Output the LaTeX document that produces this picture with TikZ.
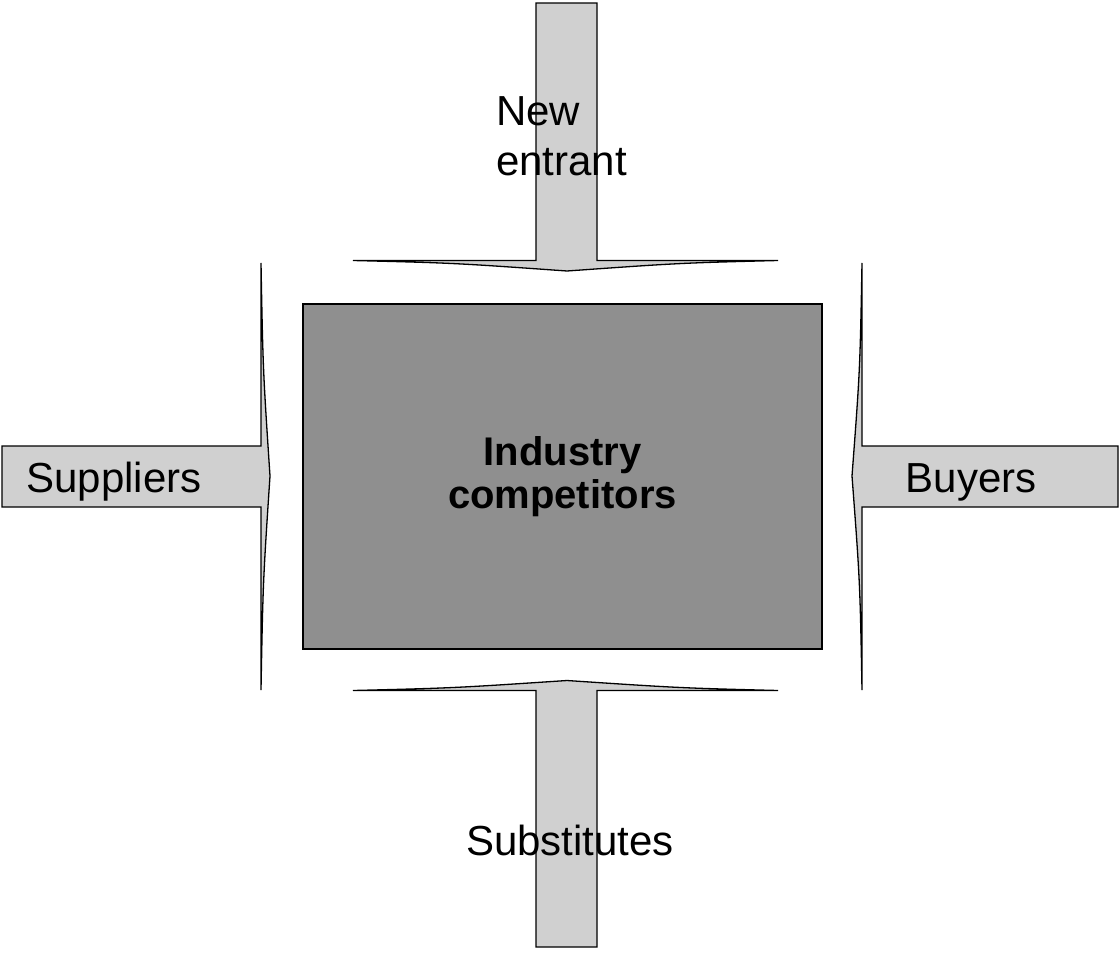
\documentclass[tikz,border=0pt]{standalone}
\usepackage{fontspec}
\setmainfont{Liberation Sans}
\begin{document}
\begin{tikzpicture}[x=1pt,y=-1pt,
  force/.style={draw=black,line width=1.3pt,fill=arrowgray,line join=miter},
  lbl/.style={font=\fontsize{42}{50}\selectfont,inner sep=0pt},
  core/.style={draw=black,line width=1.3pt,fill=coregray,minimum width=519pt,minimum height=345pt,inner sep=0pt,
    font=\fontsize{40}{43}\selectfont\bfseries,align=center}]
\definecolor{arrowgray}{HTML}{D0D0D0}
\definecolor{coregray}{HTML}{8F8F8F}
\useasboundingbox (0,0) rectangle (1120,953);
% center box
\node[core] (ind) at (562.5,476.5) {Industry\\competitors};
% top arrow (new entrants)
\path[force] (536,3) -- (597,3) -- (597,260.5) -- (778,260.5)
  .. controls (680,263) .. (567,271) .. controls (454,263) .. (353,260.5) -- (536,260.5) -- cycle;
% bottom arrow (substitutes)
\path[force] (536,947) -- (597,947) -- (597,690.5) -- (778,690.5)
  .. controls (680,688) .. (567,680.5) .. controls (454,688) .. (353,690.5) -- (536,690.5) -- cycle;
% left arrow (suppliers)
\path[force] (2,446) -- (261,446) -- (261,263)
  .. controls (263,370) .. (270,476) .. controls (263,582) .. (261,690) -- (261,507) -- (2,507) -- cycle;
% right arrow (buyers)
\path[force] (1118,446) -- (862,446) -- (862,263)
  .. controls (860,370) .. (852,476) .. controls (860,582) .. (862,690) -- (862,507) -- (1118,507) -- cycle;
% labels
\node[lbl,anchor=base west,align=left] (newent) at (496,175) {New\\entrant};
\node[lbl,anchor=base] (subst) at (570,855) {Substitutes};
\node[lbl,anchor=base] (supp) at (114,492) {Suppliers};
\node[lbl,anchor=base] (buy) at (971,492) {Buyers};
\end{tikzpicture}
\end{document}
